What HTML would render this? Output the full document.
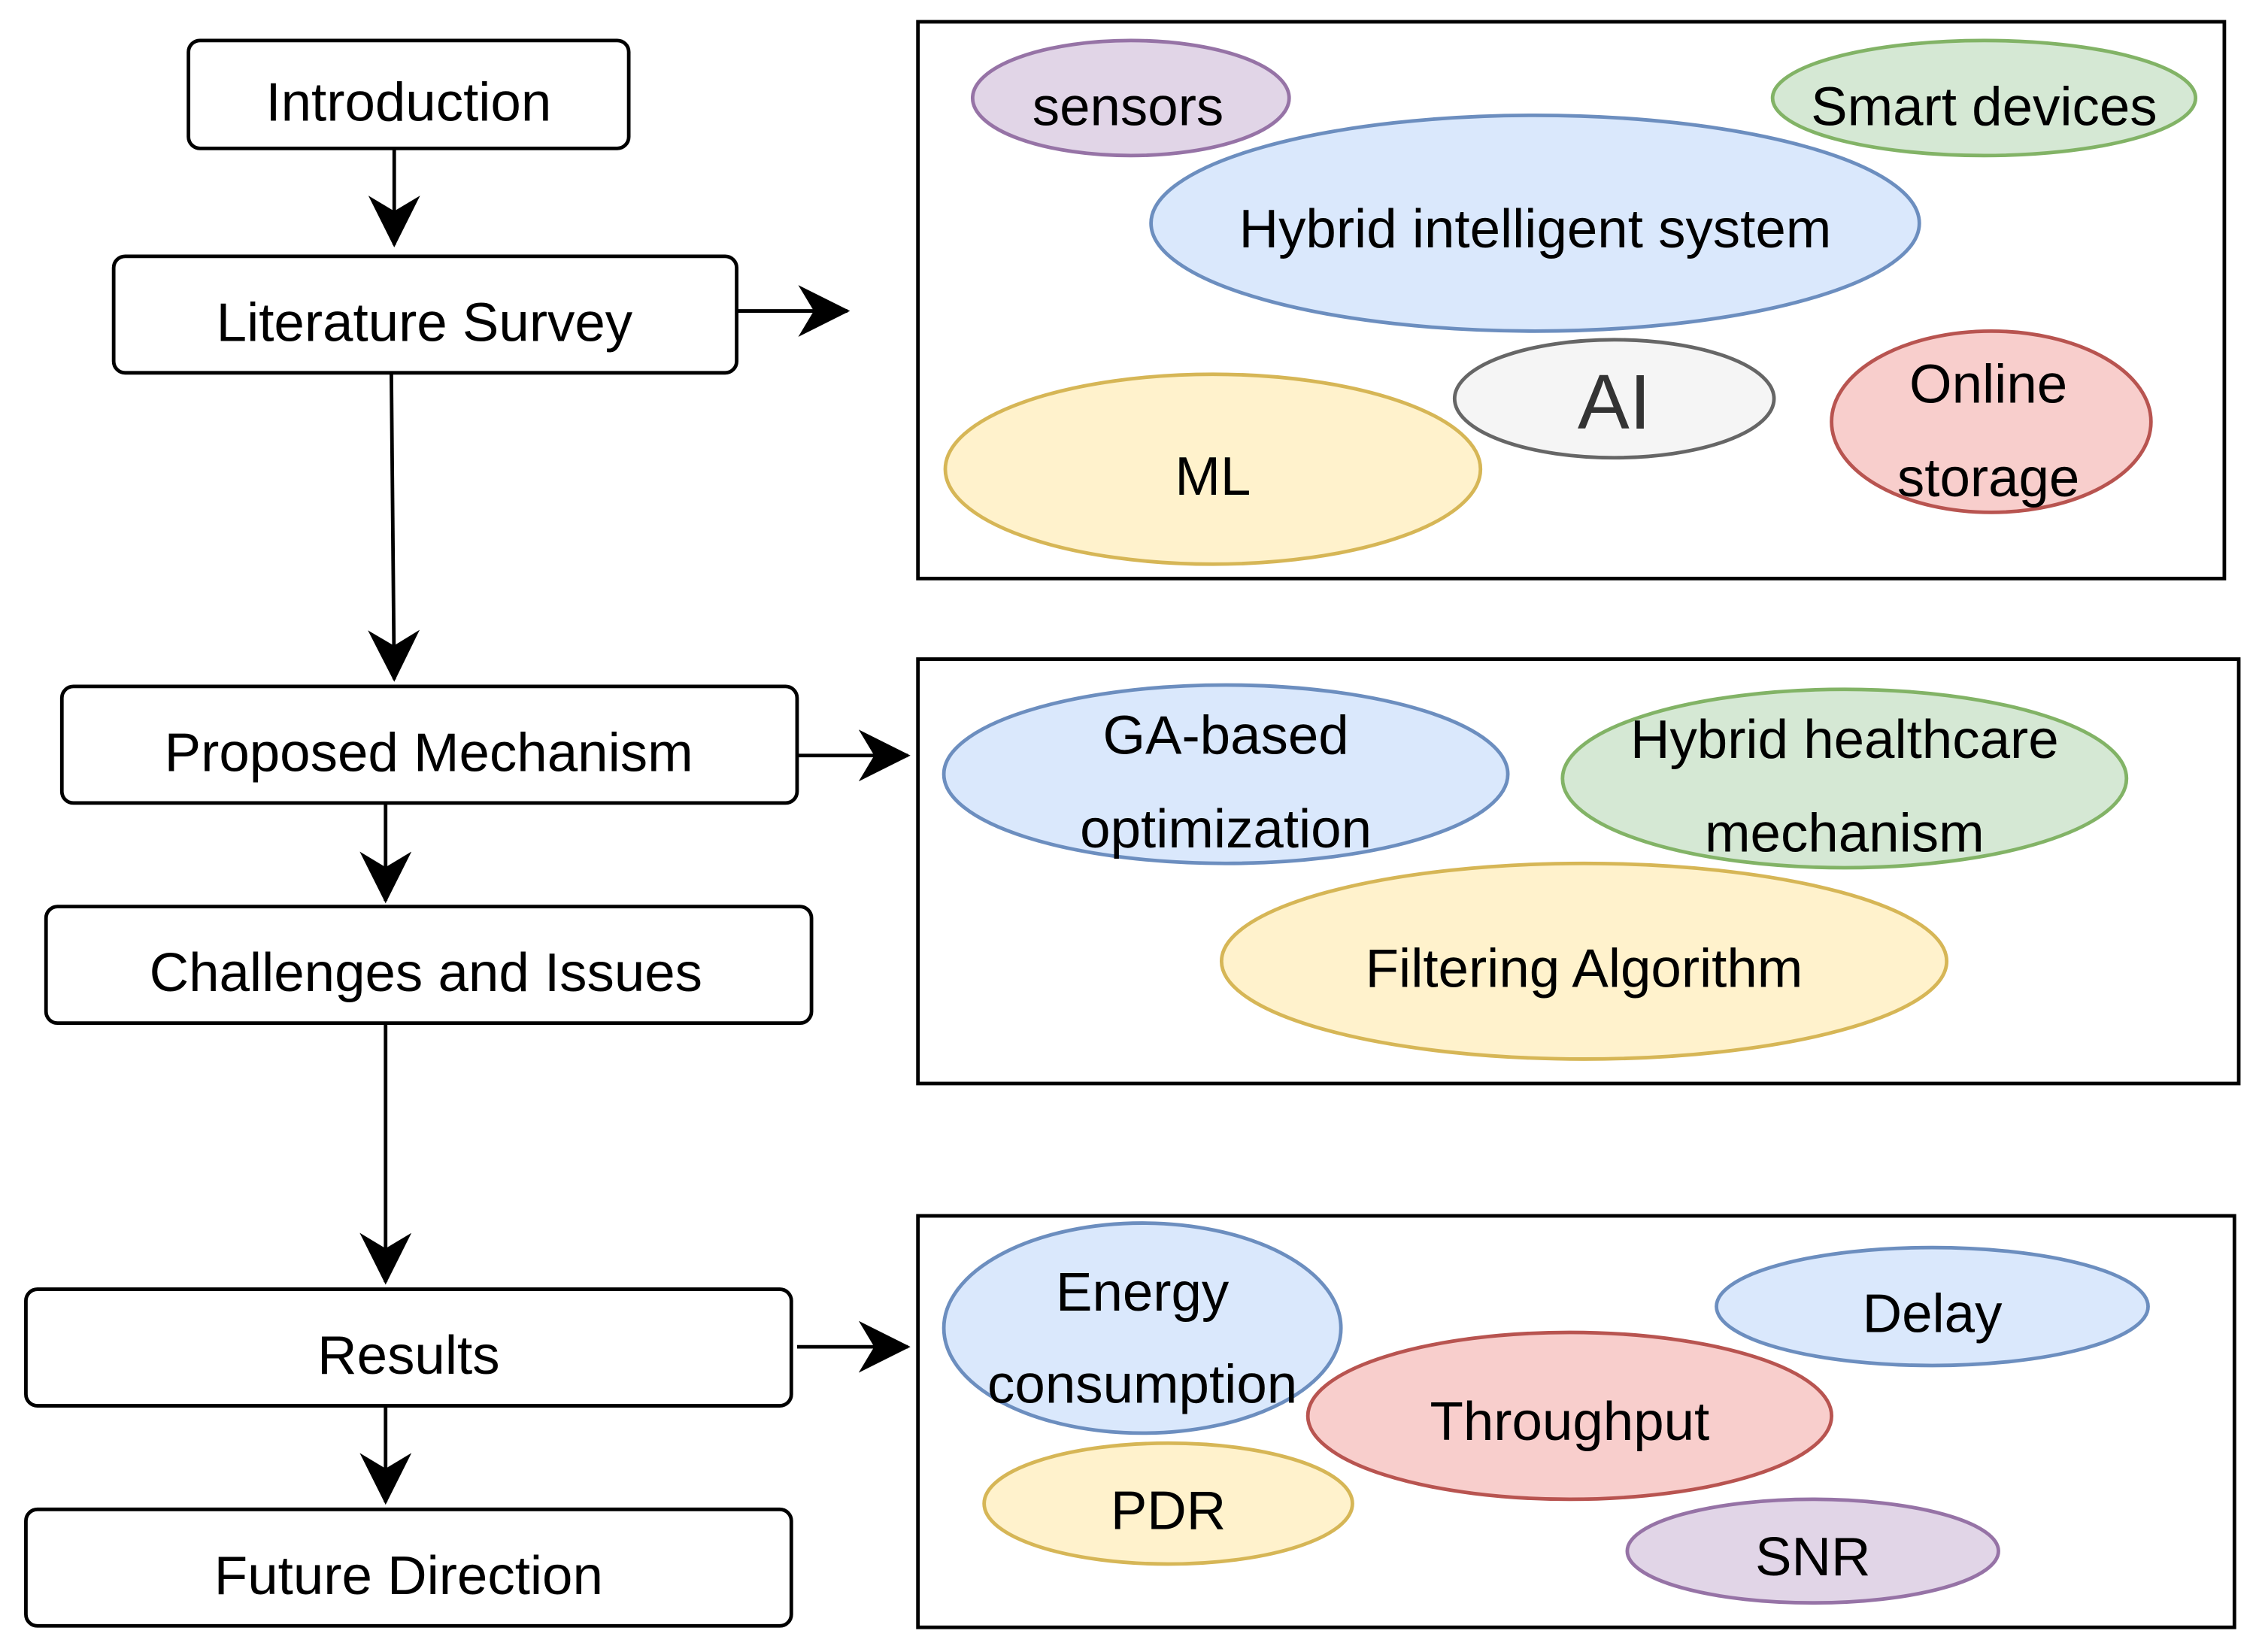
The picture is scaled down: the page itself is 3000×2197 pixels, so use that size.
<!DOCTYPE html>
<html><head><meta charset="utf-8"><style>
html,body{margin:0;padding:0;background:#fff;}
svg{display:block;}
text{font-family:"Liberation Sans",sans-serif;font-size:38px;fill:#000;text-anchor:middle;dominant-baseline:central;}
</style></head><body>
<svg width="3000" height="2197" viewBox="0 0 1568 1148" xmlns="http://www.w3.org/2000/svg">
<defs>
<marker id="b" viewBox="0 0 20 20" refX="19" refY="10" markerWidth="36" markerHeight="36" markerUnits="userSpaceOnUse" orient="auto"><path d="M0,0 L20,10 L0,20 L6,10 z" fill="#000"/></marker></defs>
<g fill="#fff" stroke="#000" stroke-width="2.5">
<rect x="131" y="28" width="306" height="75" rx="8"/>
<rect x="79" y="178" width="433" height="81" rx="8"/>
<rect x="43" y="477" width="511" height="81" rx="8"/>
<rect x="32" y="630" width="532" height="81" rx="8"/>
<rect x="18" y="896" width="532" height="81" rx="8"/>
<rect x="18" y="1049" width="532" height="81" rx="8"/>
<rect x="638" y="15" width="908" height="387"/>
<rect x="638" y="458" width="918" height="295"/>
<rect x="638" y="845" width="915" height="286"/>
</g>
<g stroke="#000" stroke-width="2.5" fill="none" marker-end="url(#b)">
<line x1="274" y1="103" x2="274" y2="170"/>
<line x1="272" y1="259" x2="274" y2="472"/>
<line x1="268" y1="558" x2="268" y2="626"/>
<line x1="268" y1="711" x2="268" y2="891"/>
<line x1="268" y1="977" x2="268" y2="1044"/>
<line x1="512" y1="216" x2="589" y2="216"/>
<line x1="554" y1="525" x2="631" y2="525"/>
<line x1="554" y1="936" x2="631" y2="936"/>
</g>
<text x="284" y="71">Introduction</text>
<text x="295" y="224">Literature Survey</text>
<text x="298" y="523">Proposed Mechanism</text>
<text x="296" y="676">Challenges and Issues</text>
<text x="284" y="942">Results</text>
<text x="284" y="1095">Future Direction</text>
<g stroke-width="2.5">
<ellipse cx="1067" cy="155" rx="267" ry="75" fill="#dae8fc" stroke="#6c8ebf"/>
<ellipse cx="786" cy="68" rx="110" ry="40" fill="#e1d5e7" stroke="#9673a6"/>
<ellipse cx="1379" cy="68" rx="147" ry="40" fill="#d5e8d4" stroke="#82b366"/>
<ellipse cx="1122" cy="277" rx="111" ry="41" fill="#f5f5f5" stroke="#666666"/>
<ellipse cx="1384" cy="293" rx="111" ry="63" fill="#f8cecc" stroke="#b85450"/>
<ellipse cx="843" cy="326" rx="186" ry="66" fill="#fff2cc" stroke="#d6b656"/>
<ellipse cx="852" cy="538" rx="196" ry="62" fill="#dae8fc" stroke="#6c8ebf"/>
<ellipse cx="1282" cy="541" rx="196" ry="62" fill="#d5e8d4" stroke="#82b366"/>
<ellipse cx="1101" cy="668" rx="252" ry="68" fill="#fff2cc" stroke="#d6b656"/>
<ellipse cx="794" cy="923" rx="138" ry="73" fill="#dae8fc" stroke="#6c8ebf"/>
<ellipse cx="1343" cy="908" rx="150" ry="41" fill="#dae8fc" stroke="#6c8ebf"/>
<ellipse cx="1091" cy="984" rx="182" ry="58" fill="#f8cecc" stroke="#b85450"/>
<ellipse cx="812" cy="1045" rx="128" ry="42" fill="#fff2cc" stroke="#d6b656"/>
<ellipse cx="1260" cy="1078" rx="129" ry="36" fill="#e1d5e7" stroke="#9673a6"/>
</g>
<text x="784" y="74">sensors</text>
<text x="1379" y="74">Smart devices</text>
<text x="1067" y="159">Hybrid intelligent system</text>
<text x="1122" y="279" style="font-size:54px;fill:#333">AI</text>
<text x="1382" y="267">Online</text>
<text x="1382" y="332">storage</text>
<text x="843" y="331">ML</text>
<text x="852" y="511">GA-based</text>
<text x="852" y="576">optimization</text>
<text x="1282" y="514">Hybrid healthcare</text>
<text x="1282" y="579">mechanism</text>
<text x="1101" y="673">Filtering Algorithm</text>
<text x="794" y="898">Energy</text>
<text x="794" y="962">consumption</text>
<text x="1343" y="913">Delay</text>
<text x="1091" y="988">Throughput</text>
<text x="812" y="1050">PDR</text>
<text x="1260" y="1082">SNR</text>
</svg>
</body></html>
